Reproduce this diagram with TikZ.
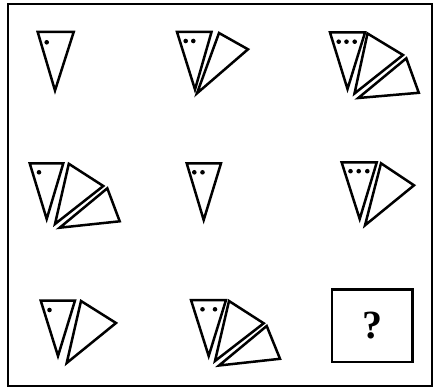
\documentclass[tikz,border=0pt]{standalone}
\usepackage{fontspec}
\setmainfont{Liberation Serif}
\begin{document}
\begin{tikzpicture}[x=1pt,y=-1pt,
  tri/.style={draw=black,line width=2.5pt,fill=white},
  dotm/.style={fill=black,circle,inner sep=0pt,minimum size=4.6pt},
  frame/.style={draw=black,line width=2pt},
  qbox/.style={draw=black,line width=2.3pt,minimum width=80.5pt,minimum height=72.5pt,inner sep=0pt,font=\bfseries\fontsize{40}{40}\selectfont}]
\useasboundingbox (0,0) rectangle (436,390);
\draw[frame] (8,4) rectangle (432,386);
% Fig 1
\draw[tri] (37.7,32) -- (73.7,32) -- (55,90.5) -- cycle;
\node[dotm] (d11) at (46.7,42.3) {};
% Fig 2
\draw[tri] (177,32) -- (211.5,32) -- (195,89.5) -- cycle;
\node[dotm] (d21) at (185.7,41) {};
\node[dotm] (d22) at (193.3,41) {};
\draw[tri] (219,33) -- (248,49.3) -- (197,93.3) -- cycle;
% Fig 3
\draw[tri] (330,32.5) -- (365,32.5) -- (347.5,89) -- cycle;
\node[dotm] (d31) at (338.7,41.7) {};
\node[dotm] (d32) at (346.5,41.7) {};
\node[dotm] (d33) at (354.7,41.7) {};
\draw[tri] (367.5,33.5) -- (403,55) -- (354.5,93.5) -- cycle;
\draw[tri] (406.3,58.3) -- (418.8,92.8) -- (358.3,98) -- cycle;
% Fig 4
\draw[tri] (29.7,163.3) -- (63.3,163.3) -- (46.7,219) -- cycle;
\node[dotm] (d41) at (39,172.3) {};
\draw[tri] (68.8,163.8) -- (103.3,186) -- (55,224) -- cycle;
\draw[tri] (107.3,188.3) -- (119.7,221.3) -- (59.7,227.7) -- cycle;
% Fig 5
\draw[tri] (186.7,163.3) -- (221,163.3) -- (203.7,220) -- cycle;
\node[dotm] (d51) at (194.3,172.3) {};
\node[dotm] (d52) at (202.5,172.3) {};
% Fig 6
\draw[tri] (341.7,162.5) -- (376.7,162.5) -- (359.7,219) -- cycle;
\node[dotm] (d61) at (350.5,171.2) {};
\node[dotm] (d62) at (358.7,171.2) {};
\node[dotm] (d63) at (367.3,171.2) {};
\draw[tri] (381,163.3) -- (414,185.3) -- (365,225.3) -- cycle;
% Fig 7
\draw[tri] (40.7,300.5) -- (75,300.5) -- (58,356) -- cycle;
\node[dotm] (d71) at (49.5,310) {};
\draw[tri] (81,301) -- (116,323) -- (66.7,363) -- cycle;
% Fig 8
\draw[tri] (191,300) -- (226,300) -- (208.7,356) -- cycle;
\node[dotm] (d81) at (202.5,309.3) {};
\node[dotm] (d82) at (215,309.3) {};
\draw[tri] (229,301) -- (263.7,323.3) -- (215,361) -- cycle;
\draw[tri] (266.7,326) -- (280,358.8) -- (219,365.5) -- cycle;
% Question box
\node[qbox] (q) at (372.2,325.7) {?};
\end{tikzpicture}
\end{document}
